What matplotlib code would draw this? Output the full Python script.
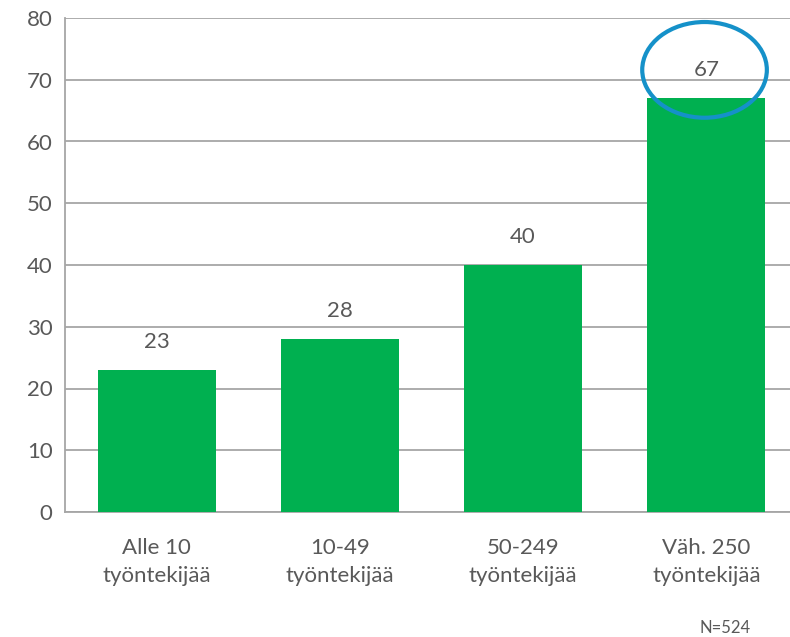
import matplotlib
matplotlib.use("Agg")
import matplotlib.pyplot as plt
from matplotlib.patches import Ellipse

plt.rcParams['font.family'] = ['Lato', 'DejaVu Sans']

categories = ["Alle 10\ntyöntekijää", "10-49\ntyöntekijää", "50-249\ntyöntekijää", "Väh. 250\ntyöntekijää"]
values = [23, 28, 40, 67]
yticks = [0, 10, 20, 30, 40, 50, 60, 70, 80]
note = "N=524"

text_col = "#595959"
grid_col = "#A6A6A6"

fig = plt.figure(figsize=(7.9, 6.37), dpi=100)
ax = fig.add_axes([65 / 790, 1 - 512 / 637, 733 / 790, 494 / 637])

x = list(range(len(categories)))
ax.bar(x, values, width=0.645, color="#00B050", zorder=3)
for xi, v in zip(x, values):
    ax.annotate(str(v), (xi, v), xytext=(0, 20), textcoords="offset points",
                ha="center", va="center", fontsize=16, color=text_col)

ax.set_xlim(-0.5, len(categories) - 0.5)
ax.set_ylim(0, 80)
ax.set_yticks(yticks)
ax.set_xticks(x)
ax.set_xticklabels(categories, fontsize=16, color=text_col, linespacing=1.5)
ax.tick_params(axis="y", length=0, pad=9, labelsize=16, labelcolor=text_col)
ax.tick_params(axis="x", length=0, pad=19)
ax.grid(axis="y", color=grid_col, linewidth=1.3, zorder=0)
for s in ["top", "right"]:
    ax.spines[s].set_visible(False)
for s in ["left", "bottom"]:
    ax.spines[s].set_color(grid_col)
    ax.spines[s].set_linewidth(1.3)

# highlight circle around the largest value
ax.add_patch(Ellipse((2.99, 71.6), 0.68, 15.5, fill=False, edgecolor="#1591C9",
                     linewidth=3, zorder=5, clip_on=False))

fig.text(725 / 790, 1 - 628 / 637, note, ha="center", va="center", fontsize=12, color=text_col)

fig.savefig("out.png", dpi=100)
